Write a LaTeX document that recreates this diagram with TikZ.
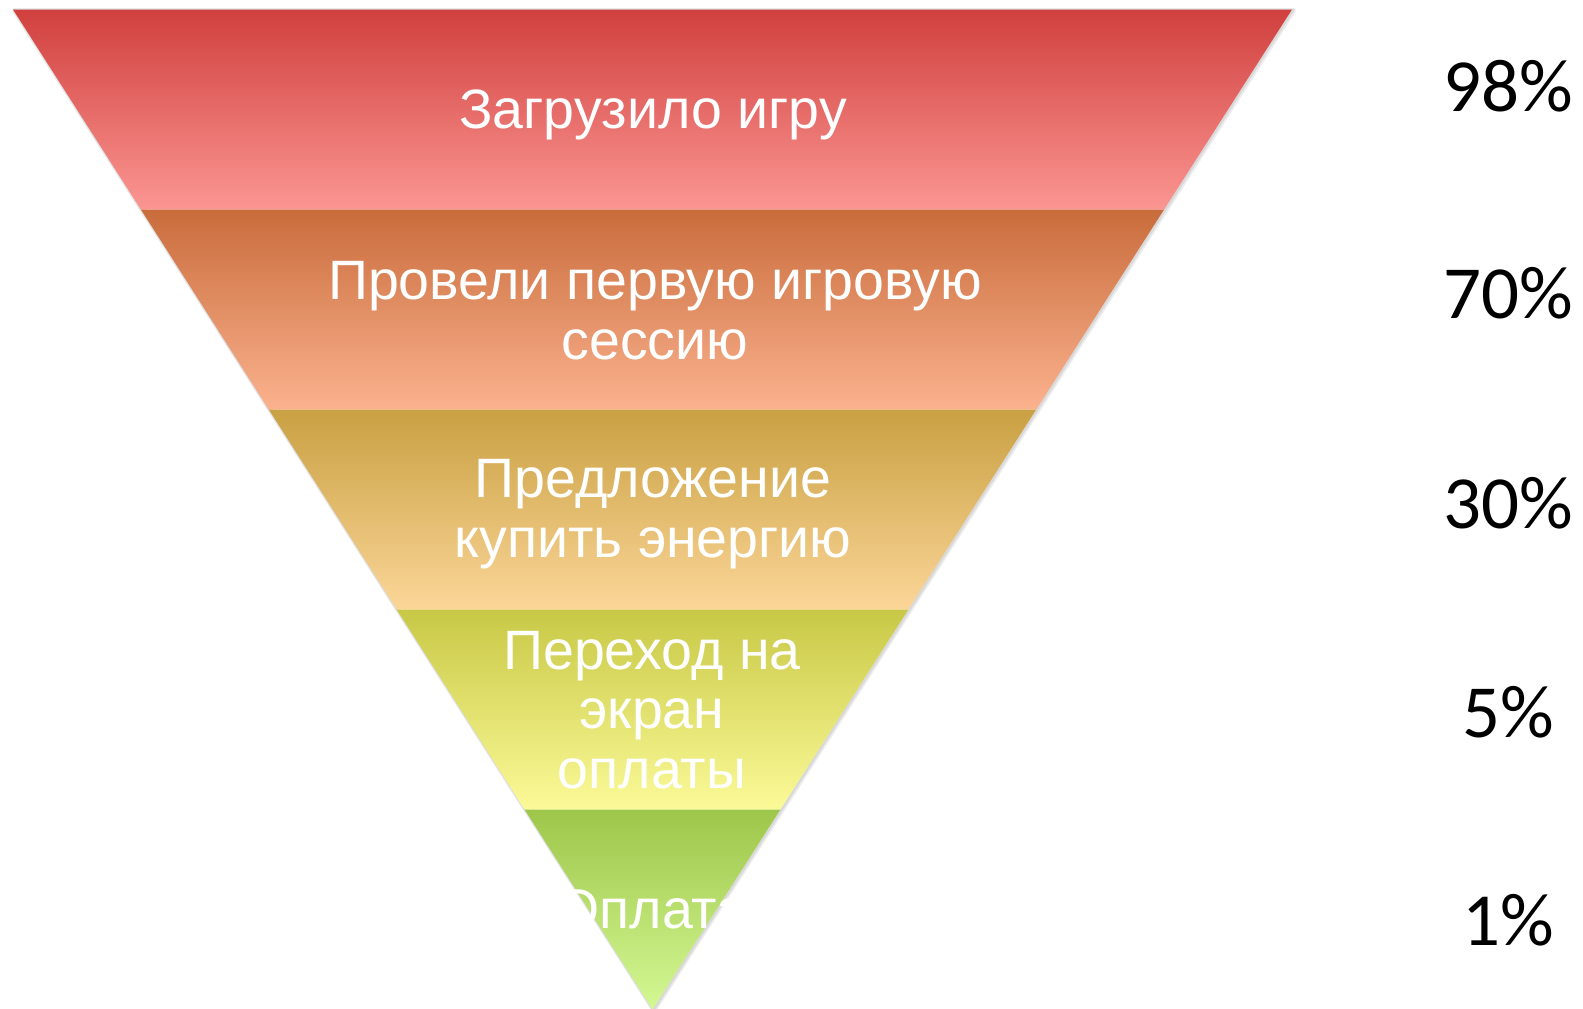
\documentclass[tikz,border=0pt]{standalone}
\usepackage{fontspec}
\setmainfont{Liberation Sans}
\newfontfamily\pctfont{Carlito}
\definecolor{aT}{RGB}{208,64,62}
\definecolor{aB}{RGB}{251,150,146}
\definecolor{bT}{RGB}{201,108,60}
\definecolor{bB}{RGB}{251,178,142}
\definecolor{cT}{RGB}{201,160,66}
\definecolor{cB}{RGB}{251,214,152}
\definecolor{dT}{RGB}{200,200,70}
\definecolor{dB}{RGB}{251,250,152}
\definecolor{eT}{RGB}{158,198,74}
\definecolor{eB}{RGB}{212,248,148}
\tikzset{
  bandfill/.style 2 args={top color=#1, bottom color=#2, draw=none},
  lbl/.style={text=white, font=\fontsize{55.5}{59.5}\selectfont, align=center, anchor=base, inner sep=0pt},
  pct/.style={font=\pctfont\fontsize{75}{80}\selectfont, anchor=base, inner sep=0pt},
}
\begin{document}
\begin{tikzpicture}[x=1pt,y=-1pt]
\useasboundingbox (0,0) rectangle (1583,1009);
% soft shadow
\draw[black!60, opacity=0.12, line width=5pt, line join=round] (14.5,10.5) -- (1293.5,10.5) -- (654,1010) -- cycle;
\draw[black!60, opacity=0.15, line width=2.5pt, line join=round] (14,10) -- (1293,10) -- (653.5,1010) -- cycle;
% bands
\shade[bandfill={aT}{aB}] (13,9.5) -- (1292,9.5) -- (1164.1,209.5) -- (140.9,209.5) -- cycle;
\shade[bandfill={bT}{bB}] (140.9,209.5) -- (1164.1,209.5) -- (1036.2,409.5) -- (268.8,409.5) -- cycle;
\shade[bandfill={cT}{cB}] (268.8,409.5) -- (1036.2,409.5) -- (908.3,609.5) -- (396.7,609.5) -- cycle;
\shade[bandfill={dT}{dB}] (396.7,609.5) -- (908.3,609.5) -- (780.4,809.5) -- (524.6,809.5) -- cycle;
\shade[bandfill={eT}{eB}] (524.6,809.5) -- (780.4,809.5) -- (652.5,1009.5) -- cycle;
% labels (anchor = baseline of last line)
\node[lbl] (t1) at (653,128) {Загрузило игру};
\node[lbl] (t2) at (655,359) {Провели первую игровую\\сессию};
\node[lbl] (t3) at (653,557) {Предложение\\купить энергию};
\node[lbl] (t4) at (652,788) {Переход на\\экран\\оплаты};
\node[lbl] (t5) at (652,928) {Оплата};
% percentages
\node[pct] (p1) at (1508,111) {98\%};
\node[pct] (p2) at (1508,318) {70\%};
\node[pct] (p3) at (1508,528) {30\%};
\node[pct] (p4) at (1508,737) {5\%};
\node[pct] (p5) at (1508,945) {1\%};
\end{tikzpicture}
\end{document}
